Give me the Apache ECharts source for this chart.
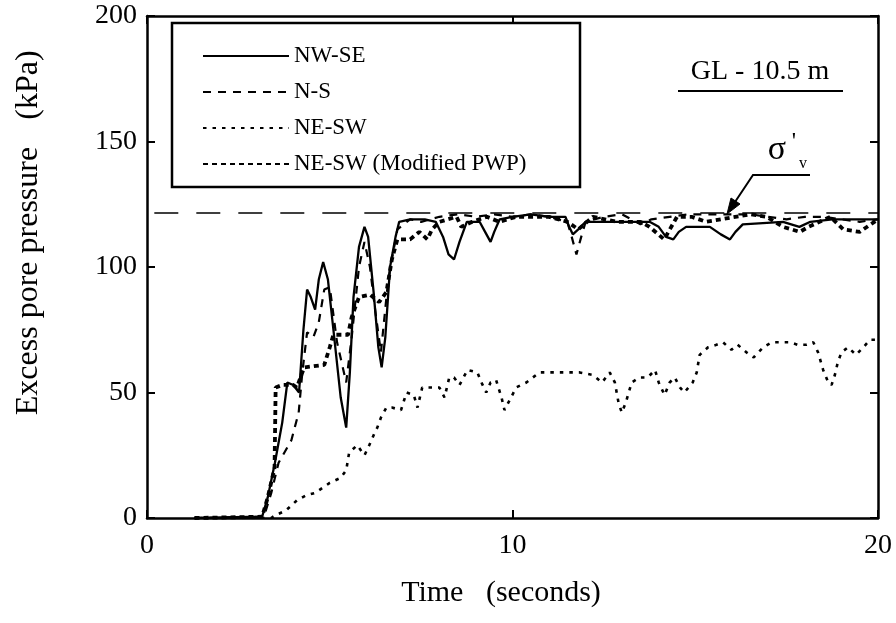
<!DOCTYPE html>
<html>
<head>
<meta charset="utf-8">
<script src="https://cdn.jsdelivr.net/npm/echarts@6/dist/echarts.min.js"></script>
<style>
html,body{margin:0;padding:0;background:#fff;}
#chart{width:896px;height:623px;}
</style>
</head>
<body>
<div id="chart"></div>
<script>
// ---- data (time in s, excess pore pressure in kPa) ----
var seriesNames = ["NW-SE", "N-S", "NE-SW", "NE-SW (Modified PWP)"];
var xTicks = [0, 10, 20];
var yTicks = [0, 50, 100, 150, 200];

var nwse = [[1.3,0],[3.15,0.5],[3.3,8],[3.5,22],[3.7,38],[3.84,54],[4.0,53],[4.16,50],[4.28,75],[4.38,91],[4.48,88],[4.6,83],[4.7,95],[4.82,102],[4.95,95],[5.1,75],[5.3,48],[5.45,36],[5.55,58],[5.65,88],[5.8,108],[5.95,116],[6.05,112],[6.2,90],[6.33,68],[6.42,60],[6.52,72],[6.65,100],[6.8,112],[6.9,118],[7.2,119],[7.6,119],[7.9,118],[8.1,112],[8.25,105],[8.4,103],[8.55,110],[8.75,118],[9.1,118],[9.25,114],[9.4,110],[9.5,114],[9.65,119],[10.0,120],[10.5,121],[11.0,120],[11.45,120],[11.55,116],[11.65,113],[11.8,115],[12.0,118],[12.85,118],[13.75,118],[14.0,116],[14.2,112],[14.4,111],[14.55,114],[14.75,116],[15.4,116],[15.7,113],[15.95,111],[16.1,114],[16.3,117],[17.4,118],[17.85,116],[18.15,118],[18.75,119],[19.9,119],[20,119]];

var ns = [[1.3,0],[3.2,0.5],[3.4,10],[3.6,22],[3.95,31],[4.15,42],[4.25,58],[4.38,74],[4.55,72],[4.7,78],[4.85,91],[5.0,92],[5.2,70],[5.45,54],[5.6,72],[5.8,100],[5.95,110],[6.1,100],[6.25,82],[6.4,66],[6.6,95],[6.85,115],[7.2,119],[7.5,118],[8.0,120],[8.5,121],[9.0,120],[9.5,121],[10.0,120],[10.5,121],[11.0,120],[11.5,118],[11.62,112],[11.75,105],[11.88,112],[12.0,118],[12.5,120],[13.0,121],[13.5,117],[13.8,119],[14.3,120],[14.8,121],[15.3,121],[16.0,121],[16.5,121],[17.0,120],[17.5,119],[18.0,120],[18.5,120],[19.0,119],[19.5,118],[20,119]];

var nesw = [[1.3,0],[3.4,0],[3.5,1],[3.8,3],[4.1,7],[4.35,9],[4.6,10],[4.8,12],[5.0,14],[5.3,16],[5.45,19],[5.53,26],[5.75,29],[5.95,25],[6.08,29],[6.2,33],[6.3,36],[6.4,40],[6.55,44],[6.7,44],[6.95,43],[7.1,50],[7.3,49],[7.4,44],[7.53,52],[7.77,52],[8.0,52],[8.14,48],[8.27,56],[8.4,56],[8.55,53],[8.77,59],[9.04,58],[9.15,54],[9.28,50],[9.4,54],[9.55,55],[9.7,48],[9.78,43],[9.96,48],[10.1,52],[10.38,54],[10.74,58],[11.1,58],[11.47,58],[11.84,58],[12.2,57],[12.45,54],[12.66,58],[12.8,54],[12.9,46],[12.99,42],[13.1,46],[13.26,54],[13.48,56],[13.7,56],[13.9,59],[14.0,54],[14.16,49],[14.3,54],[14.44,56],[14.58,52],[14.7,50],[14.93,54],[15.04,58],[15.12,65],[15.35,68],[15.58,69],[15.76,70],[15.99,67],[16.16,69],[16.4,66],[16.6,64],[16.86,68],[17.1,70],[17.37,70],[17.6,70],[17.8,69],[18.05,69],[18.23,70],[18.36,66],[18.5,59],[18.64,54],[18.73,53],[18.82,57],[18.9,62],[19.0,66],[19.18,68],[19.4,65],[19.6,68],[19.78,71],[19.9,71],[20,71]];

var neswMod = [[1.3,0],[3.15,0.5],[3.3,8],[3.49,20],[3.52,52],[3.7,53],[4.0,53],[4.1,52],[4.3,60],[4.85,61],[5.0,68],[5.1,73],[5.5,73],[5.6,80],[5.8,88],[6.1,89],[6.35,86],[6.55,90],[6.7,103],[6.85,111],[7.2,111],[7.45,114],[7.67,111],[7.8,115],[8.0,118],[8.47,120],[8.6,116],[8.9,118],[9.3,120],[9.64,118],[10.1,120],[11.0,120],[11.5,118],[11.8,115],[12.2,120],[12.85,118],[13.5,118],[13.75,116],[14.15,111],[14.5,120],[14.9,120],[15.3,118],[16.5,121],[16.95,120],[17.4,116],[17.86,114],[18.1,116],[18.7,120],[19.05,115],[19.5,114],[19.9,118],[20,119]];

var sigmaV = [[0.2,121.5],[20,121.5]];

// ---- chart ----
var FONT = "'Liberation Serif', 'DejaVu Serif', serif";
var chart = echarts.init(document.getElementById('chart'));

function axisCommon(pos, showLabel, isX) {
  return {
    type: 'value',
    position: pos,
    min: isX ? xTicks[0] : yTicks[0],
    max: isX ? xTicks[xTicks.length-1] : yTicks[yTicks.length-1],
    interval: isX ? xTicks[1]-xTicks[0] : yTicks[1]-yTicks[0],
    axisLine: {show: true, onZero: false, lineStyle: {color: '#000', width: 2.5}},
    axisTick: {show: true, inside: true, length: 8, lineStyle: {color: '#000', width: 2}},
    splitLine: {show: false},
    axisLabel: {show: showLabel, color: '#000', fontFamily: FONT, fontSize: 28, margin: isX ? 14 : 10}
  };
}

var blackItem = {color: '#000', opacity: 0};

var option = {
  animation: false,
  backgroundColor: '#fff',
  grid: {left: 147, right: 18, top: 16, bottom: 105},
  xAxis: [axisCommon('bottom', true, true), axisCommon('top', false, true)],
  yAxis: [axisCommon('left', true, false), axisCommon('right', false, false)],
  legend: {
    data: seriesNames,
    orient: 'vertical',
    left: 197,
    top: 39,
    itemWidth: 86,
    itemHeight: 14,
    itemGap: 12,
    padding: 5,
    itemStyle: {opacity: 0},
    textStyle: {color: '#000', fontFamily: FONT, fontSize: 23, lineHeight: 24, padding: [0,0,0,0]}
  },
  series: [
    {name: 'sigma', type: 'line', data: sigmaV, symbol: 'none', silent: true,
     itemStyle: blackItem,
     lineStyle: {color: '#000', width: 1.5, type: [24, 18]}},
    {name: seriesNames[0], type: 'line', data: nwse, symbol: 'none', itemStyle: blackItem,
     lineStyle: {color: '#000', width: 2.3, type: 'solid'}},
    {name: seriesNames[1], type: 'line', data: ns, symbol: 'none', itemStyle: blackItem,
     lineStyle: {color: '#000', width: 2.2, type: [8, 7]}},
    {name: seriesNames[2], type: 'line', data: nesw, symbol: 'none', itemStyle: blackItem,
     lineStyle: {color: '#000', width: 2.6, type: [3.5, 6]}},
    {name: seriesNames[3], type: 'line', data: neswMod, symbol: 'none', itemStyle: blackItem,
     lineStyle: {color: '#000', width: 3.8, type: [5, 4]}}
  ],
  graphic: [
    {type: 'rect', shape: {x: 172, y: 23, width: 408, height: 164},
     style: {fill: null, stroke: '#000', lineWidth: 2.5}, z: 10},
    {type: 'text', x: 760, y: 72,
     style: {text: 'GL - 10.5 m', font: "28px " + FONT, fill: '#000', textAlign: 'center', textVerticalAlign: 'middle'}, z: 10},
    {type: 'line', shape: {x1: 678, y1: 91, x2: 843, y2: 91}, style: {stroke: '#000', lineWidth: 2}, z: 10},
    {type: 'text', x: 777, y: 150,
     style: {text: 'σ', font: "34px " + FONT, fill: '#000', textAlign: 'center', textVerticalAlign: 'middle'}, z: 10},
    {type: 'text', x: 794, y: 142,
     style: {text: "'", font: "24px " + FONT, fill: '#000', textAlign: 'center', textVerticalAlign: 'middle'}, z: 10},
    {type: 'text', x: 803, y: 164,
     style: {text: 'v', font: "16px " + FONT, fill: '#000', textAlign: 'center', textVerticalAlign: 'middle'}, z: 10},
    {type: 'polyline', shape: {points: [[810,175],[753,175],[733,205]]},
     style: {stroke: '#000', lineWidth: 2, fill: null}, z: 10},
    {type: 'polygon', shape: {points: [[727,214],[740,204],[731,198]]},
     style: {fill: '#000', stroke: '#000', lineWidth: 1}, z: 10},
    {type: 'text', x: 29, y: 281, rotation: Math.PI/2,
     style: {text: 'Excess pore pressure', font: "32px " + FONT, fill: '#000', textAlign: 'center', textVerticalAlign: 'middle'}, z: 10},
    {type: 'text', x: 29, y: 85, rotation: Math.PI/2,
     style: {text: '(kPa)', font: "32px " + FONT, fill: '#000', textAlign: 'center', textVerticalAlign: 'middle'}, z: 10},
    {type: 'text', x: 501, y: 593,
     style: {text: 'Time   (seconds)', font: "30px " + FONT, fill: '#000', textAlign: 'center', textVerticalAlign: 'middle'}, z: 10}
  ]
};
chart.setOption(option);
</script>
</body>
</html>
